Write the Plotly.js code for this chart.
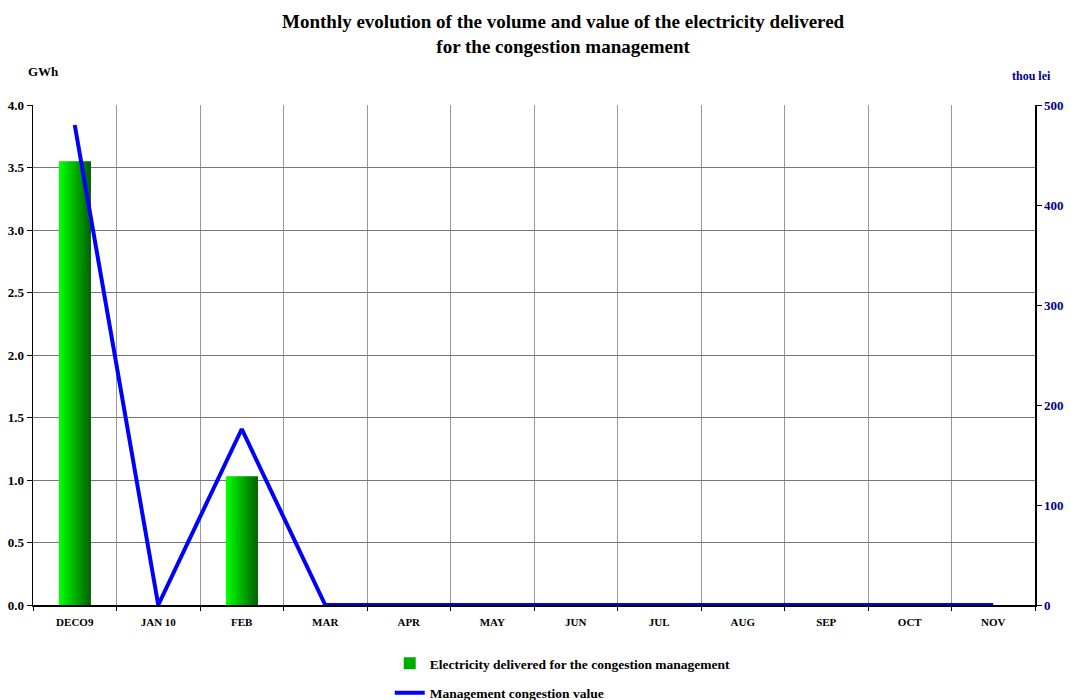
<!DOCTYPE html>
<html><head><meta charset="utf-8">
<script src="https://cdn.plot.ly/plotly-3.0.1.min.js"></script>
<style>body{margin:0;background:#fff}#c{width:1071px;height:700px}</style>
</head><body><div id="c"></div>
<script>
const months = ["DECO9","JAN 10","FEB","MAR","APR","MAY","JUN","JUL","AUG","SEP","OCT","NOV"];
const volumeGWh = [3.55,0,1.03,0,0,0,0,0,0,0,0,0];
const valueThouLei = [480,0,176,0,0,0,0,0,0,0,0,0];

const font = "Liberation Serif, Times New Roman, serif";
const traces = [];
const N = 16, barW = 0.38;
function lerp(a,b,t){return Math.round(a+(b-a)*t);}
for (let i=0;i<N;i++){
  const t = i/(N-1);
  const col = `rgb(0,${lerp(255,100,t)},0)`;
  traces.push({
    type:'bar', x:months, y:volumeGWh,
    width: barW/N + 0.004, offset: -barW/2 + i*barW/N,
    marker:{color:col, line:{width:0}},
    name:'<b>Electricity delivered for the congestion management</b>',
    legendgroup:'a',
    showlegend: i===N/2, hoverinfo:'skip'
  });
}
traces.push({
  type:'scatter', mode:'lines', x:months, y:valueThouLei, yaxis:'y2',
  line:{color:'#0000ff', width:4}, legendgroup:'b',
  name:'<b>Management congestion value</b>'
});

const layout = {
  width:1071, height:700,
  margin:{l:33, r:36, t:105, b:95, autoexpand:false},
  paper_bgcolor:'#fff', plot_bgcolor:'#fff',
  barmode:'overlay',
  font:{family:font, color:'#000'},
  xaxis:{type:'category', tickson:'boundaries', showgrid:true, gridcolor:'#999', gridwidth:1,
    ticks:'outside', ticklen:4, tickcolor:'#000', showline:true, linecolor:'#000', linewidth:1.5,
    ticklabelstandoff:6,
    tickfont:{size:11, family:font}, tickprefix:'<b>', ticksuffix:'</b>', range:[-0.5,11.5], fixedrange:true},
  yaxis:{range:[0,4], dtick:0.5, tickformat:'.1f', showgrid:true, gridcolor:'#777', gridwidth:1,
    ticks:'outside', ticklen:5, tickcolor:'#000', showline:true, linecolor:'#000', linewidth:1.5,
    tickfont:{size:13, family:font}, tickprefix:'<b>', ticksuffix:'</b>', zeroline:false},
  yaxis2:{overlaying:'y', side:'right', range:[0,500], dtick:100, showgrid:false,
    ticks:'outside', ticklen:5, tickcolor:'#000', showline:true, linecolor:'#000', linewidth:1.5,
    tickfont:{size:13, family:font, color:'#000080'}, tickprefix:'<b>', ticksuffix:'</b>', zeroline:false},
  legend:{orientation:'v', x:0.356, xanchor:'left', y:-0.086, yanchor:'top',
    font:{size:13.5, family:font}, tracegroupgap:9, traceorder:'grouped', bgcolor:'rgba(0,0,0,0)'},
  annotations:[
    {text:'<b>Monthly evolution of the volume and value of the electricity delivered<br>for the congestion management</b>',
     xref:'paper', yref:'paper', x:0.529, y:1.192, xanchor:'center', yanchor:'top', showarrow:false,
     font:{size:19, family:font}},
    {text:'<b>GWh</b>', xref:'paper', yref:'paper', x:0.01, y:1.066, xanchor:'center', yanchor:'middle', showarrow:false, font:{size:13, family:font}},
    {text:'<b>thou lei</b>', xref:'paper', yref:'paper', x:1.018, y:1.058, xanchor:'right', yanchor:'middle', showarrow:false, font:{size:12, family:font, color:'#000080'}}
  ],
  showlegend:true
};
Plotly.newPlot('c', traces, layout, {displayModeBar:false, staticPlot:true});
</script></body></html>
